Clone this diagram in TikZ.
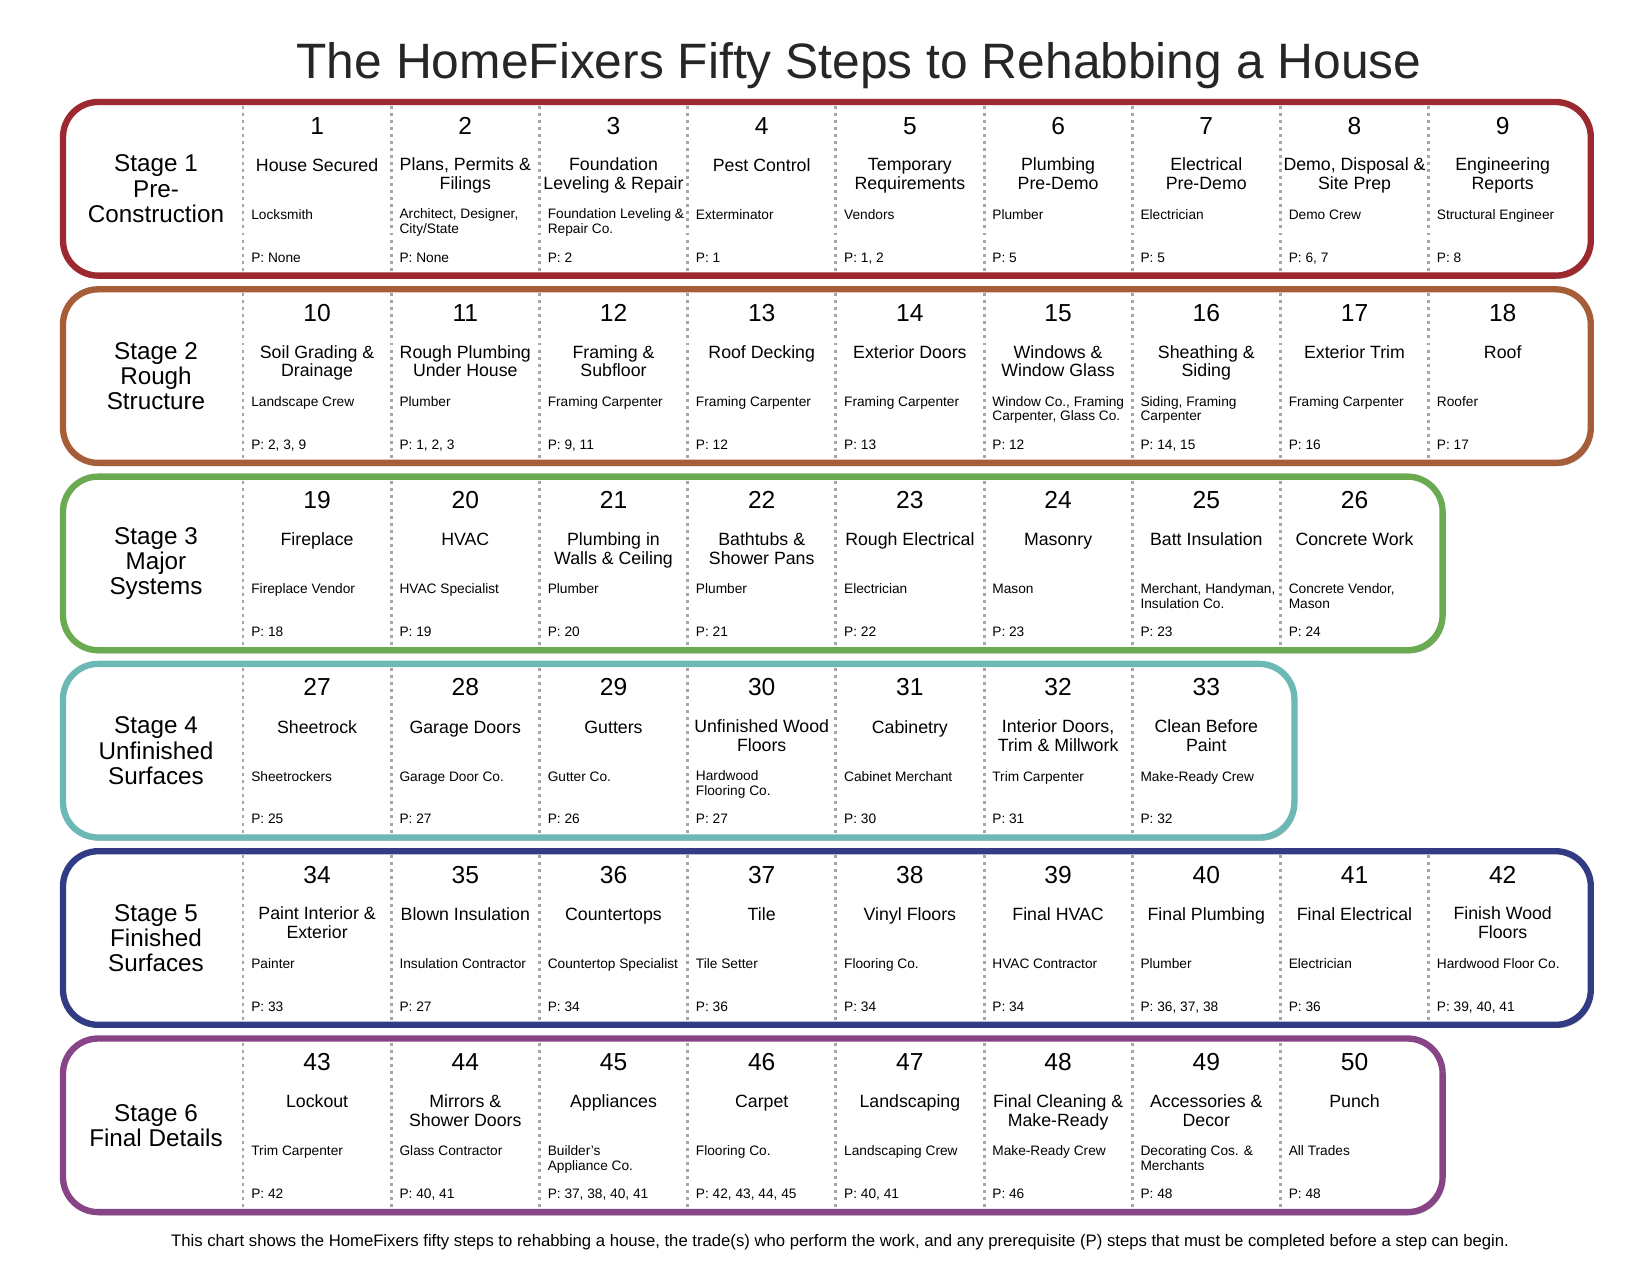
\documentclass[tikz,border=0pt]{standalone}
\usepackage{fontspec}
\setmainfont{Liberation Sans}
\usepackage{tikz}
\usetikzlibrary{shadows}
\definecolor{stageA}{HTML}{9C2830}
\definecolor{stageB}{HTML}{A65E38}
\definecolor{stageC}{HTML}{6AAA50}
\definecolor{stageD}{HTML}{6CB8B4}
\definecolor{stageE}{HTML}{323C84}
\definecolor{stageF}{HTML}{874486}
% a stage: #1 top of row, #2 number of steps, #3 colour, #4 node name, #5 label
\newcommand{\stagerow}[5]{%
  \draw[stagebox,draw=#3] (63,#1) rectangle (257+148.2*#2,#1+173.6);
  \foreach \col in {1,...,#2}
    \draw[colsep] (94.8+148.2*\col,#1+4) -- (94.8+148.2*\col,#1+169.6);
  \node[stagelabel] (#4) at (156,#1+86.8) {#5};}
% one step: #1 top of row, #2 column, #3 number, #4 title, #5 trade, #6 prerequisites
\newcommand{\stepcell}[6]{%
  \node[stepnum] (num#3) at (168.9+148.2*#2,#1+32) {#3};
  \node[steptitle] (title#3) at (168.9+148.2*#2,#1+55.5) {#4};
  \node[steptrade] (trade#3) at (102.8+148.2*#2,#1+106.6) {#5};
  \node[stepprereq] (pre#3) at (102.8+148.2*#2,#1+160) {P: #6};}

\begin{document}
\begin{tikzpicture}[x=0.02cm,y=-0.02cm,
  stagebox/.style={line width=3.6pt,rounded corners=20pt,fill=white,
    drop shadow={shadow xshift=1.2pt,shadow yshift=-1.8pt,opacity=.3,fill=black}},
  colsep/.style={draw=black!35,line width=1.7pt,dash pattern=on 1.7pt off 2.3pt},
  stagelabel/.style={align=center,inner sep=0,font=\fontsize{13.8}{14.4}\selectfont},
  stepnum/.style={anchor=base,inner sep=0,font=\fontsize{14}{16}\selectfont},
  steptitle/.style={anchor=north,align=center,inner sep=0,
    execute at begin node=\strut,font=\fontsize{10.1}{10.8}\selectfont},
  steptrade/.style={anchor=north west,align=left,inner sep=0,
    execute at begin node=\strut,font=\fontsize{7.8}{8.4}\selectfont},
  stepprereq/.style={anchor=base west,inner sep=0,font=\fontsize{7.8}{8.4}\selectfont}]
  \useasboundingbox[fill=white] (0,0) rectangle (1650,1275);

  \node[anchor=base,font=\fontsize{28.3}{32}\selectfont,text=black!85] (heading) at (859,78)
    {The HomeFixers Fifty Steps to Rehabbing a House};

  % Stage 1
  \stagerow{102}{9}{stageA}{stage1}{Stage 1\\Pre-\\Construction}
  \stepcell{102}{1}{1}{House Secured}{Locksmith}{None}
  \stepcell{102}{2}{2}{Plans, Permits \&\\Filings}{Architect, Designer,\\City/State}{None}
  \stepcell{102}{3}{3}{Foundation\\Leveling \& Repair}{Foundation Leveling \&\\Repair Co.}{2}
  \stepcell{102}{4}{4}{Pest Control}{Exterminator}{1}
  \stepcell{102}{5}{5}{Temporary\\Requirements}{Vendors}{1, 2}
  \stepcell{102}{6}{6}{Plumbing\\Pre-Demo}{Plumber}{5}
  \stepcell{102}{7}{7}{Electrical\\Pre-Demo}{Electrician}{5}
  \stepcell{102}{8}{8}{Demo, Disposal \&\\Site Prep}{Demo Crew}{6, 7}
  \stepcell{102}{9}{9}{Engineering\\Reports}{Structural Engineer}{8}

  % Stage 2
  \stagerow{289.3}{9}{stageB}{stage2}{Stage 2\\Rough\\Structure}
  \stepcell{289.3}{1}{10}{Soil Grading \&\\Drainage}{Landscape Crew}{2, 3, 9}
  \stepcell{289.3}{2}{11}{Rough Plumbing\\Under House}{Plumber}{1, 2, 3}
  \stepcell{289.3}{3}{12}{Framing \&\\Subfloor}{Framing Carpenter}{9, 11}
  \stepcell{289.3}{4}{13}{Roof Decking}{Framing Carpenter}{12}
  \stepcell{289.3}{5}{14}{Exterior Doors}{Framing Carpenter}{13}
  \stepcell{289.3}{6}{15}{Windows \&\\Window Glass}{Window Co., Framing\\Carpenter, Glass Co.}{12}
  \stepcell{289.3}{7}{16}{Sheathing \&\\Siding}{Siding, Framing\\Carpenter}{14, 15}
  \stepcell{289.3}{8}{17}{Exterior Trim}{Framing Carpenter}{16}
  \stepcell{289.3}{9}{18}{Roof}{Roofer}{17}

  % Stage 3
  \stagerow{476.6}{8}{stageC}{stage3}{Stage 3\\Major\\Systems}
  \stepcell{476.6}{1}{19}{Fireplace}{Fireplace Vendor}{18}
  \stepcell{476.6}{2}{20}{HVAC}{HVAC Specialist}{19}
  \stepcell{476.6}{3}{21}{Plumbing in\\Walls \& Ceiling}{Plumber}{20}
  \stepcell{476.6}{4}{22}{Bathtubs \&\\Shower Pans}{Plumber}{21}
  \stepcell{476.6}{5}{23}{Rough Electrical}{Electrician}{22}
  \stepcell{476.6}{6}{24}{Masonry}{Mason}{23}
  \stepcell{476.6}{7}{25}{Batt Insulation}{Merchant, Handyman,\\Insulation Co.}{23}
  \stepcell{476.6}{8}{26}{Concrete Work}{Concrete Vendor,\\Mason}{24}

  % Stage 4
  \stagerow{663.9}{7}{stageD}{stage4}{Stage 4\\Unfinished\\Surfaces}
  \stepcell{663.9}{1}{27}{Sheetrock}{Sheetrockers}{25}
  \stepcell{663.9}{2}{28}{Garage Doors}{Garage Door Co.}{27}
  \stepcell{663.9}{3}{29}{Gutters}{Gutter Co.}{26}
  \stepcell{663.9}{4}{30}{Unfinished Wood\\Floors}{Hardwood\\Flooring Co.}{27}
  \stepcell{663.9}{5}{31}{Cabinetry}{Cabinet Merchant}{30}
  \stepcell{663.9}{6}{32}{Interior Doors,\\Trim \& Millwork}{Trim Carpenter}{31}
  \stepcell{663.9}{7}{33}{Clean Before\\Paint}{Make-Ready Crew}{32}

  % Stage 5
  \stagerow{851.2}{9}{stageE}{stage5}{Stage 5\\Finished\\Surfaces}
  \stepcell{851.2}{1}{34}{Paint Interior \&\\Exterior}{Painter}{33}
  \stepcell{851.2}{2}{35}{Blown Insulation}{Insulation Contractor}{27}
  \stepcell{851.2}{3}{36}{Countertops}{Countertop Specialist}{34}
  \stepcell{851.2}{4}{37}{Tile}{Tile Setter}{36}
  \stepcell{851.2}{5}{38}{Vinyl Floors}{Flooring Co.}{34}
  \stepcell{851.2}{6}{39}{Final HVAC}{HVAC Contractor}{34}
  \stepcell{851.2}{7}{40}{Final Plumbing}{Plumber}{36, 37, 38}
  \stepcell{851.2}{8}{41}{Final Electrical}{Electrician}{36}
  \stepcell{851.2}{9}{42}{Finish Wood\\Floors}{Hardwood Floor Co.}{39, 40, 41}

  % Stage 6
  \stagerow{1038.5}{8}{stageF}{stage6}{Stage 6\\Final Details}
  \stepcell{1038.5}{1}{43}{Lockout}{Trim Carpenter}{42}
  \stepcell{1038.5}{2}{44}{Mirrors \&\\Shower Doors}{Glass Contractor}{40, 41}
  \stepcell{1038.5}{3}{45}{Appliances}{Builder's\\Appliance Co.}{37, 38, 40, 41}
  \stepcell{1038.5}{4}{46}{Carpet}{Flooring Co.}{42, 43, 44, 45}
  \stepcell{1038.5}{5}{47}{Landscaping}{Landscaping Crew}{40, 41}
  \stepcell{1038.5}{6}{48}{Final Cleaning \&\\Make-Ready}{Make-Ready Crew}{46}
  \stepcell{1038.5}{7}{49}{Accessories \&\\Decor}{Decorating Cos. \&\\Merchants}{48}
  \stepcell{1038.5}{8}{50}{Punch}{All Trades}{48}

  \node[anchor=base,font=\fontsize{9.5}{11}\selectfont] (note) at (840,1246)
    {This chart shows the HomeFixers fifty steps to rehabbing a house, the trade(s) who perform the work, and any prerequisite (P) steps that must be completed before a step can begin.};
\end{tikzpicture}
\end{document}
